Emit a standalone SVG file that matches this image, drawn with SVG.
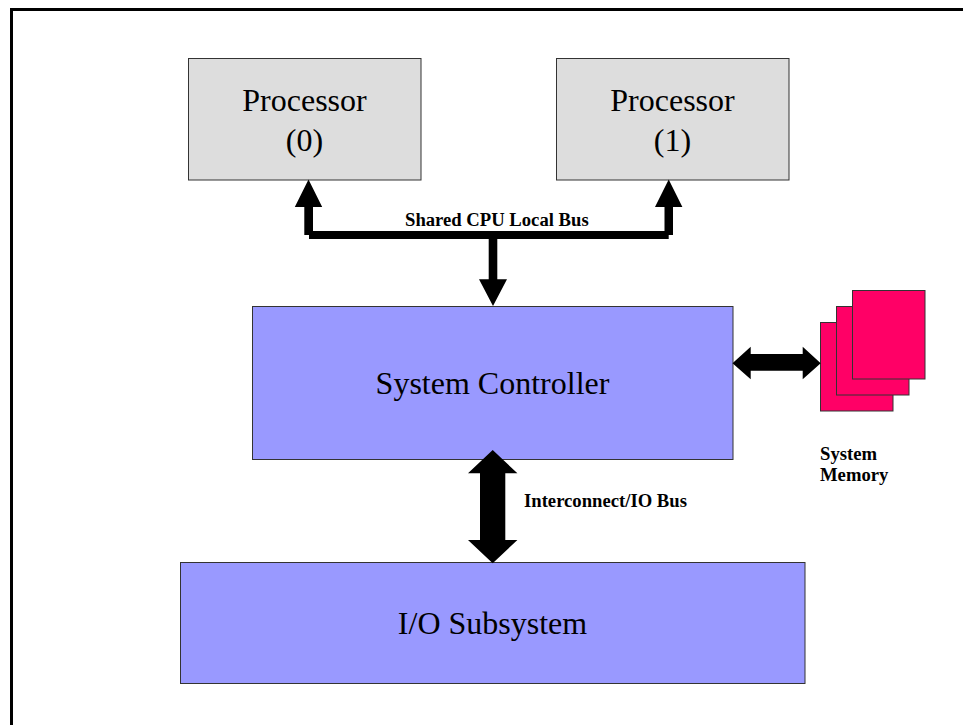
<svg xmlns="http://www.w3.org/2000/svg" width="963" height="725" viewBox="0 0 963 725">
<style>
text{font-family:"Liberation Serif","Times New Roman",serif;fill:#000}
.big{font-size:32px;text-anchor:middle}
.lab{font-size:18.670px;font-weight:bold}
.box{stroke:#333;stroke-width:1}
.gray{fill:#ddd}
.blue{fill:#99f}
.mem{fill:#f06;stroke:#333;stroke-width:1}
</style>
<rect width="963" height="725" fill="#fff"/>
<path d="M11.500 725V9.500H963" fill="none" stroke="#000" stroke-width="3"/>
<g id="processor0"><rect class="box gray" x="188.500" y="58.500" width="232.500" height="121.500"/><text class="big" x="304.500" y="111">Processor</text><text class="big" x="304.500" y="151">(0)</text></g>
<g id="processor1"><rect class="box gray" x="556.500" y="58.500" width="232.500" height="121.500"/><text class="big" x="672.500" y="111">Processor</text><text class="big" x="672.500" y="151">(1)</text></g>
<g id="system-controller"><rect class="box blue" x="252.500" y="306.500" width="480.500" height="153"/><text class="big" x="492.500" y="394">System Controller</text></g>
<g id="io-subsystem"><rect class="box blue" x="180.500" y="562.500" width="624.500" height="121"/><text class="big" x="492.500" y="634">I/O Subsystem</text></g>
<g id="system-memory"><rect class="mem" x="820.500" y="322.500" width="72.500" height="88.500"/><rect class="mem" x="836.500" y="306.500" width="72.500" height="88.500"/><rect class="mem" x="852.500" y="290.500" width="72.500" height="88.500"/><text class="lab" x="820" y="459.500">System</text><text class="lab" x="820" y="481">Memory</text></g>
<g id="connectors" fill="#000">
<path d="M308.500 179.500L322.200 207H313V231H664.500V207H655L668.700 179.500 682.400 207H673V235H668.700V239H497.300V279.300H507L493 306 479 279.300H488.700V239H309V235H304.300V207H294.800Z"/>
<path d="M732.500 363.300L750.700 346.700V354H802.700V346.700L820.700 363.300 802.700 379.300V370.700H750.700V379.300Z"/>
<path d="M492.700 450L517.400 473.300H505.300V540H517.400L492.700 563.300 468 540H480V473.300H468Z"/>
</g>
<text class="lab" x="405" y="226">Shared CPU Local Bus</text>
<text class="lab" x="524" y="507">Interconnect/IO Bus</text>
</svg>
